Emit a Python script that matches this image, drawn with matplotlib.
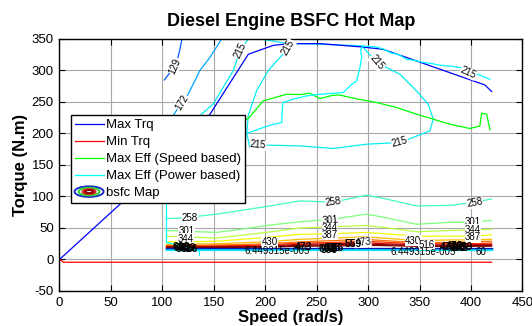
import matplotlib
matplotlib.use('Agg')
import matplotlib.pyplot as plt
from matplotlib.patches import Ellipse
from matplotlib.legend_handler import HandlerBase

plt.rcParams['font.family'] = ['Liberation Sans', 'DejaVu Sans']
plt.rcParams['axes.unicode_minus'] = False

# ---- max / min torque curves ----
maxtrq_speed = [0, 63.7, 146.3, 183.5, 207.8, 224, 253, 295.2, 314.7, 413.5, 420]
maxtrq_torque = [0, 95, 230.6, 325.7, 339.9, 342.6, 342.6, 337.2, 333.6, 277, 266.6]
mintrq_speed = [0, 4, 420]
mintrq_torque = [0, -4.4, -4.4]

# ---- max efficiency lines ----
effspd_speed = [172, 184.5, 198, 220.8, 233.7, 243.4, 253.2, 265.8, 272.6, 290.4, 308.3,
                327.7, 347.1, 363.3, 379.5, 398.9, 408.6, 410.3, 415.2, 418.4]
effspd_torque = [212, 225.4, 251.7, 262.3, 261.8, 263.9, 255.5, 260.7, 261, 254.4, 249.1,
                 241.2, 230.6, 222.7, 214.7, 207.9, 212, 232.2, 230.6, 205.7]

effpwr_speed = [136, 136, 104, 104, 150, 184.5, 198, 207.8, 216, 217, 227, 240, 253, 275.8,
                284, 288.8, 292, 293.7, 292.7, 295.2, 308.3, 315, 322, 330, 337.4, 345, 353,
                362, 369.8, 380, 389.2, 398, 405, 418.4]
effpwr_torque = [7, 14, 27, 150, 190, 201.5, 209.5, 214.7, 217.4, 249, 254.4, 259.6, 262.3, 264.9,
                 278, 283.3, 304.6, 320.4, 333.6, 338.9, 337.2, 334, 328, 325, 317.7, 316, 313,
                 311, 308.3, 307, 304.6, 303, 295, 286]

# ---- bsfc contour lines (upper part) ----
c129_speed = [102, 107, 112, 115, 117, 119]
c129_torque = [285, 296, 307, 320, 333, 350]
c172_speed = [105, 110.6, 118.8, 125.2, 130, 136.5, 146.3, 157.6]
c172_torque = [215, 228.5, 249.6, 262.8, 278.6, 300, 321, 350]
c215a_speed = [128, 136.5, 149.5, 159.2, 168.9, 175.4, 183.5]
c215a_torque = [215, 228.5, 246.9, 273.4, 299.8, 331.5, 350]
c215b_speed = [227.2, 215, 202.9, 191.6, 183.5, 182, 185.1, 201.4, 233.7, 266.1, 298.5, 330.9,
               343.8, 360, 363.3, 358.4, 347.1, 330.9, 318, 308.3, 295.2]
c215b_torque = [341.5, 322, 299.8, 268.1, 228.5, 200, 177.8, 181.5, 180.3, 176.2, 183, 185.7,
                193.7, 204.1, 222.7, 246.4, 267.5, 294, 304.6, 312.5, 336.8]
c215c_speed = [196.5, 207.8, 216, 224, 250, 280, 295.2]
c215c_torque = [349.4, 346.8, 344.2, 342.6, 342, 340, 338.9]

# ---- bsfc contour lines (low torque band) ----
band_speed = [104, 120, 153, 185, 201, 234, 266, 298, 315, 347, 380, 400, 420]
band_258 = [65, 66, 72, 80, 84, 93, 91, 102, 97, 85, 86, 90, 96]
band_301 = [46, 45, 43, 50, 54, 60, 64, 72, 67, 56, 59, 59, 62]
band_344 = [37, 36, 34, 40, 43, 50, 52, 54, 51, 44, 46, 47, 48]
band_387 = [28, 28, 29, 33, 35, 40, 41, 43, 41, 37, 37, 37, 39]
band_430 = [24, 24, 25, 27, 28, 32, 34, 36, 34, 30, 31, 31, 32]
band_473 = [22, 22, 23, 24, 25, 28, 30, 32, 30, 27, 27, 28, 29]
band_516 = [21, 21, 21.5, 22.5, 23, 26, 27, 29, 27.5, 25, 25, 25.5, 26]
band_559 = [20, 20, 20.5, 21, 21.5, 24, 25, 26.5, 25, 23.5, 23, 23.5, 24]
band_602 = [19.5, 19.5, 19.5, 20, 20.5, 22.5, 23, 24.5, 23.5, 22, 21.5, 22, 22.5]
band_645 = [19, 19, 19, 19.5, 19.5, 21, 21.5, 22.5, 22, 21, 20.5, 21, 21]
band_levels = [258, 301, 344, 387, 430, 473, 516, 559, 602, 645]
band_lines = [band_258, band_301, band_344, band_387, band_430,
              band_473, band_516, band_559, band_602, band_645]

drop_levels = [6.449315e-5, 43, 86, 129, 172, 215]
drop_torque = [17.8, 17.4, 17.0, 16.6, 16.2, 15.6]

# ---- contour labels ----
label_text = ["129", "172", "215", "215", "215", "215", "215", "215",
              "258", "258", "258", "301", "301", "301", "344", "344", "344",
              "387", "387", "430", "430", "473", "516"]
label_speed = [112.2, 118.8, 175.4, 222.4, 308.3, 397.3, 193.2, 330.9,
               126.8, 266, 403.8, 123.6, 262.9, 402.1, 122.5, 262.9, 402,
               262.9, 402, 204.3, 343.8, 295.2, 356.8]
label_torque = [307, 249.6, 331.5, 336.3, 312.5, 296.7, 182, 185.7,
                65.8, 91.6, 89.5, 44.7, 61.5, 58.9, 33, 49.4, 47.2,
                38.8, 35.2, 27.2, 29.8, 27.2, 23]
label_rot = [66, 58, 65, 60, -50, -25, -5, 15,
             0, 8, 10, 0, 5, 0, 0, 0, 0,
             0, 0, 0, 0, 5, 0]

small_text = ["6.449315e-005", "6.449315e-005", "60"]
small_speed = [211.8, 353, 410]
small_torque = [12.8, 12, 11.5]

blob_text = ["602", "559", "645", "516", "688", "602", "645", "559", "516", "473",
             "559", "602", "559", "645", "473", "473"]
blob_speed = [119, 124, 121, 126, 118, 260, 265, 262, 268, 237,
              286, 388, 393, 390, 384, 377.8]
blob_torque = [18, 19, 16, 17, 20, 16, 17.5, 15.5, 18, 20.5,
               24, 19, 20, 18, 21, 20]

ring_scale = [1.0, 0.72, 0.45, 0.28]
ring_colors = ['#1a2fc8', '#2fd02f', '#e02020', '#8b0000']


class HandlerRings(HandlerBase):
    def create_artists(self, legend, orig_handle, xdescent, ydescent, width, height, fontsize, trans):
        cx = width / 2 - xdescent
        cy = height / 2 - ydescent
        arts = []
        for s, c in zip(ring_scale, ring_colors):
            arts.append(Ellipse((cx, cy), width * s, height * 1.15 * s, fill=False,
                                edgecolor=c, lw=1.4, transform=trans))
        return arts


cmap = plt.get_cmap('jet')
vmax = 602.0

fig = plt.figure(figsize=(5.32, 3.26), dpi=100)
ax = fig.add_axes([0.1118, 0.1074, 0.8703, 0.7730])

lw = 0.9
# contour lines
ax.plot(c129_speed, c129_torque, color=cmap(129 / vmax), lw=lw)
ax.plot(c172_speed, c172_torque, color=cmap(172 / vmax), lw=lw)
for sp, tq in [(c215a_speed, c215a_torque), (c215b_speed, c215b_torque), (c215c_speed, c215c_torque)]:
    ax.plot(sp, tq, color=cmap(215 / vmax), lw=lw)
for lev, tq in zip(band_levels, band_lines):
    ax.plot(band_speed, tq, color=cmap(min(lev / vmax, 1.0)), lw=lw)
for lev, tq in zip(drop_levels, drop_torque):
    ax.plot([band_speed[0], band_speed[-1]], [tq, tq], color=cmap(lev / vmax), lw=lw)

# labels
for t, x, y, r in zip(label_text, label_speed, label_torque, label_rot):
    ax.text(x, y, t, fontsize=7, rotation=r, ha='center', va='center', zorder=4,
            rotation_mode='anchor',
            bbox=dict(facecolor='white', edgecolor='none', pad=0.2))
for t, x, y in zip(small_text, small_speed, small_torque):
    ax.text(x, y, t, fontsize=7, ha='center', va='center', zorder=4)
for t, x, y in zip(blob_text, blob_speed, blob_torque):
    ax.text(x, y, t, fontsize=7.5, fontweight='bold', ha='center', va='center', zorder=4)

# torque limits and efficiency lines
h1, = ax.plot(maxtrq_speed, maxtrq_torque, color='#0000ff', lw=lw)
h2, = ax.plot(mintrq_speed, mintrq_torque, color='#ff0000', lw=lw)
h3, = ax.plot(effspd_speed, effspd_torque, color='#00ff00', lw=lw)
h4, = ax.plot(effpwr_speed, effpwr_torque, color='#00ffff', lw=lw)
rings = object()

leg = ax.legend([h1, h2, h3, h4, rings],
                ['Max Trq', 'Min Trq', 'Max Eff (Speed based)', 'Max Eff (Power based)', 'bsfc Map'],
                handler_map={rings: HandlerRings()},
                loc='upper left', bbox_to_anchor=(0.024, 0.698), borderaxespad=0,
                fontsize=9.5, fancybox=False, framealpha=1, edgecolor='black',
                handlelength=2.2, handletextpad=0.2, labelspacing=0.36, borderpad=0.3)
leg.get_frame().set_linewidth(1.0)
leg.set_zorder(10)

ax.set_xlim(0, 450)
ax.set_ylim(-50, 350)
ax.set_xticks(range(0, 451, 50))
ax.set_yticks(range(-50, 351, 50))
ax.grid(True, color='#a8a8a8', lw=0.8, ls='-')
ax.set_axisbelow(True)
ax.tick_params(direction='in', top=True, right=True, length=4, width=0.8, labelsize=9.5, pad=4)
for sp in ax.spines.values():
    sp.set_linewidth(1.0)

ax.set_title('Diesel Engine BSFC Hot Map', fontsize=13, fontweight='bold', pad=9)
ax.set_xlabel('Speed (rad/s)', fontsize=12, fontweight='bold', labelpad=1)
ax.set_ylabel('Torque (N.m)', fontsize=12, fontweight='bold', labelpad=3)

fig.savefig('out.png', dpi=100)
